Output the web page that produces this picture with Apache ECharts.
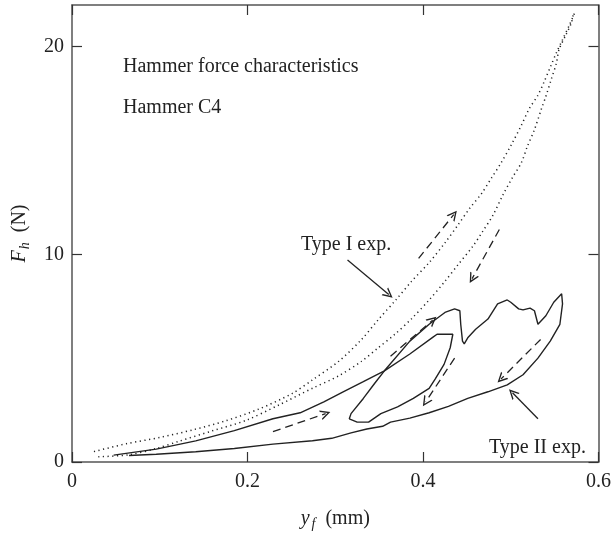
<html>
<head>
<meta charset="utf-8">
<script src="https://cdn.jsdelivr.net/npm/echarts@6/dist/echarts.min.js"></script>
<style>
    html, body { margin: 0; padding: 0; background: #fff; }
    #main { width: 614px; height: 536px; }
</style>
</head>
<body>
<div id="main"></div>
<script>
    // Type I exp. (dotted): loading branch and unloading branch, [y_f mm, F_h N]
    var typeILoad = [[0.025,0.5],[0.062,0.88],[0.1,1.18],[0.138,1.55],[0.175,1.98],[0.213,2.55],[0.251,3.3],
        [0.274,3.95],[0.304,4.85],[0.33,5.9],[0.349,6.85],[0.369,7.8],[0.387,8.7],[0.407,9.6],[0.425,10.55],
        [0.440,11.42],[0.453,12.2],[0.467,12.94],[0.478,13.67],[0.489,14.4],[0.501,15.3],[0.512,16.2],
        [0.521,17.0],[0.531,17.66],[0.538,18.3],[0.546,19.1],[0.552,19.7],[0.559,20.33],[0.567,21.05],[0.5735,21.69]];
    var typeIUnload = [[0.571,21.5],[0.569,21.13],[0.563,20.57],[0.555,19.85],[0.552,19.2],[0.546,18.4],
        [0.540,17.6],[0.535,17.0],[0.527,16.0],[0.519,15.2],[0.512,14.4],[0.502,13.7],[0.491,12.85],[0.480,11.9],
        [0.468,11.1],[0.457,10.4],[0.44,9.5],[0.425,8.7],[0.407,7.8],[0.387,6.9],[0.368,6.15],[0.349,5.5],
        [0.33,4.85],[0.304,4.15],[0.274,3.55],[0.236,2.75],[0.198,2.0],[0.16,1.5],[0.122,1.0],[0.096,0.65],
        [0.065,0.35],[0.03,0.25]];

    // Type II exp. (solid): outer loop and inner loop
    var typeIIOuter = [[0.0475,0.33],[0.096,0.62],[0.141,1.02],[0.185,1.51],[0.229,2.08],[0.26,2.37],[0.287,2.89],
        [0.309,3.38],[0.332,3.87],[0.356,4.39],[0.385,5.82],[0.407,6.63],[0.425,7.2],[0.436,7.37],[0.442,7.28],
        [0.443,6.63],[0.445,5.82],[0.447,5.69],[0.451,5.98],[0.460,6.39],[0.474,6.88],[0.485,7.61],[0.496,7.8],
        [0.5,7.69],[0.509,7.37],[0.514,7.32],[0.522,7.41],[0.527,7.28],[0.531,6.63],[0.533,6.55],[0.54,7.04],
        [0.549,7.69],[0.558,8.1],[0.559,7.61],[0.556,6.63],[0.545,5.82],[0.531,5.0],[0.514,4.2],[0.496,3.71],
        [0.474,3.38],[0.451,3.06],[0.429,2.68],[0.407,2.37],[0.385,2.11],[0.363,1.92],[0.354,1.72],[0.336,1.59],
        [0.318,1.4],[0.296,1.14],[0.274,1.02],[0.229,0.86],[0.185,0.65],[0.141,0.49],[0.096,0.37],[0.065,0.31]];
    var typeIIInner = [[0.356,4.39],[0.385,5.2],[0.411,6.0],[0.416,6.15],[0.434,6.15],[0.431,5.5],[0.424,4.7],
        [0.414,4.0],[0.407,3.54],[0.389,3.06],[0.371,2.65],[0.352,2.33],[0.338,1.92],[0.325,1.92],[0.316,2.08],
        [0.318,2.33],[0.332,3.06],[0.345,3.79],[0.356,4.39]];

    // arrows: [from, to]
    var solidArrows = [[[0.314,9.72],[0.361,8.06]], [[0.531,2.08],[0.502,3.33]]];
    var dashedArrows = [[[0.395,9.8],[0.435,11.91]], [[0.487,11.19],[0.456,8.83]], [[0.363,5.09],[0.411,6.83]],
        [[0.436,5.0],[0.403,2.89]], [[0.229,1.46],[0.289,2.33]], [[0.534,5.9],[0.489,4.0]]];

    var xTickValues = [0, 0.2, 0.4, 0.6];
    var yTickValues = [0, 10, 20];

    var serif = '"Liberation Serif", "DejaVu Serif", serif';
    var ink = '#222';
    var frame = '#555';
    var openHead = 'path://M0,10 L5,0 L10,10 L8.5,10 L5,3 L1.5,10 Z';

    function arrowItems(list, type) {
        return list.map(function (a) {
            return [{coord: a[0], lineStyle: {type: type}}, {coord: a[1]}];
        });
    }

    var chart = echarts.init(document.getElementById('main'));

    function axis(extra, ticks, labels) {
        return Object.assign({
            type: 'value',
            axisLine: {show: true, onZero: false, lineStyle: {color: frame, width: 1.5}},
            axisTick: {show: true, inside: true, length: 10, customValues: ticks, lineStyle: {color: '#333', width: 1.2}},
            axisLabel: labels ? Object.assign({customValues: ticks, color: ink, fontFamily: serif, fontSize: 20}, labels)
                              : {show: false},
            splitLine: {show: false}
        }, extra);
    }

    function nameStyle(pad) {
        return {
            color: ink, fontFamily: serif, fontSize: 20,
            rich: {
                i: {fontFamily: serif, fontSize: 20, fontStyle: 'italic', color: ink},
                s: {fontFamily: serif, fontSize: 14, fontStyle: 'italic', color: ink, padding: pad},
                n: {fontFamily: serif, fontSize: 20, color: ink}
            }
        };
    }

    var option = {
        animation: false,
        grid: {left: 72, right: 13, top: 5, bottom: 70},
        xAxis: [
            axis({position: 'bottom', min: 0, max: 0.6,
                name: '{i|y}{s|f}{n|  (mm)}', nameLocation: 'middle', nameGap: 45,
                nameTextStyle: nameStyle([10, 0, 0, 2])}, xTickValues, {margin: 10}),
            axis({position: 'top', min: 0, max: 0.6}, xTickValues, null)
        ],
        yAxis: [
            axis({position: 'left', min: 0, max: 22,
                name: '{i|F}{s|h}{n|  (N)}', nameLocation: 'middle', nameGap: 40, nameRotate: 90,
                nameTextStyle: nameStyle([10, 0, 0, 1])}, yTickValues, {margin: 8}),
            axis({position: 'right', min: 0, max: 22}, yTickValues, null)
        ],
        graphic: [
            {type: 'text', x: 123, y: 67, style: {text: 'Hammer force characteristics', font: '20px ' + serif, fill: ink, textVerticalAlign: 'middle'}},
            {type: 'text', x: 123, y: 108, style: {text: 'Hammer C4', font: '20px ' + serif, fill: ink, textVerticalAlign: 'middle'}},
            {type: 'text', x: 301, y: 245, style: {text: 'Type I exp.', font: '20px ' + serif, fill: ink, textVerticalAlign: 'middle'}},
            {type: 'text', x: 489, y: 448, style: {text: 'Type II exp.', font: '20px ' + serif, fill: ink, textVerticalAlign: 'middle'}}
        ],
        series: [
            {
                type: 'line', data: typeILoad, showSymbol: false, smooth: 0.3,
                lineStyle: {color: ink, width: 1.5, type: [1.2, 3.5]}
            },
            {
                type: 'line', data: typeIUnload, showSymbol: false, smooth: 0.3,
                lineStyle: {color: ink, width: 1.5, type: [1.2, 3.5]}
            },
            {
                type: 'line', data: typeIIOuter, showSymbol: false,
                lineStyle: {color: ink, width: 1.4}
            },
            {
                type: 'line', data: typeIIInner, showSymbol: false,
                lineStyle: {color: ink, width: 1.4}
            },
            {
                type: 'line', data: [], silent: true,
                markLine: {
                    silent: true,
                    symbol: ['none', openHead],
                    symbolSize: [10, 10],
                    label: {show: false},
                    lineStyle: {color: ink, width: 1.3},
                    data: arrowItems(solidArrows, 'solid').concat(arrowItems(dashedArrows, [8, 5]))
                }
            }
        ]
    };

    chart.setOption(option);
</script>
</body>
</html>
